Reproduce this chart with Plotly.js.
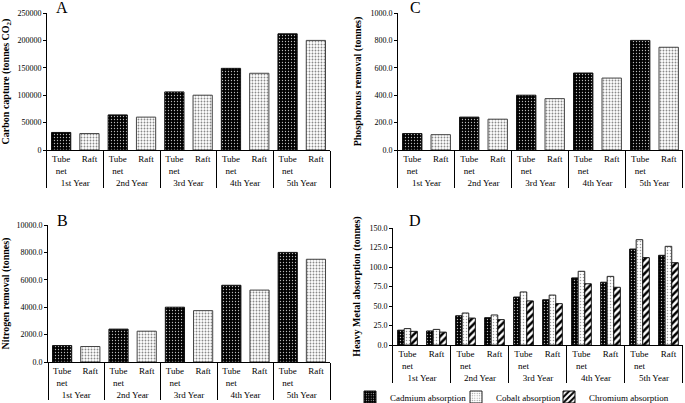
<!DOCTYPE html>
<html>
<head>
<meta charset="utf-8">
<script src="https://cdn.plot.ly/plotly-3.0.1.min.js"></script>
<style>
  html, body { margin: 0; padding: 0; background: #fff; }
  #chart { width: 685px; height: 403px; }
</style>
</head>
<body>
<div id="chart"></div>
<script>
// categories
var years = ['1st Year', '1st Year', '2nd Year', '2nd Year', '3rd Year', '3rd Year', '4th Year', '4th Year', '5th Year', '5th Year'];
var methods = ['Tube<br>net', 'Raft', 'Tube<br>net', 'Raft', 'Tube<br>net', 'Raft', 'Tube<br>net', 'Raft', 'Tube<br>net', 'Raft'];

// panel values
var carbon = [32000, 30000, 64000, 60000, 106000, 100000, 149000, 140000, 212000, 200000];
var nitrogen = [1200, 1130, 2400, 2250, 4000, 3750, 5600, 5250, 8000, 7500];
var phosphorus = [120, 112, 240, 225, 400, 375, 562, 525, 800, 750];
var cadmium = [19, 18, 37.5, 35, 61.5, 58, 86, 80.5, 123, 115];
var cobalt = [21, 20, 41, 38.5, 68, 64, 94.5, 88, 135, 126.5];
var chromium = [17.5, 16.5, 34.5, 32.5, 56.5, 53, 78.5, 74, 112, 105.5];

var serif = 'Liberation Serif, Times New Roman, serif';

var darkDots = {shape: '.', bgcolor: '#000', fgcolor: '#bbb', size: 3, solidity: 0.15};
var lightDots = {shape: '.', bgcolor: '#fff', fgcolor: '#888', size: 3, solidity: 0.3};

function pick(arr, m) {
	return arr.filter(function(v, i) { return (methods[i] == 'Raft') == (m == 'Raft'); });
}

// tube net and raft as two traces sharing one slot per category
function twoBars(vals, xa, ya) {
	return ['Tube', 'Raft'].map(function(m) {
		return {
			type: 'bar',
			x: [pick(years, m), pick(methods, m)],
			y: pick(vals, m),
			xaxis: xa, yaxis: ya,
			offsetgroup: 'one',
			showlegend: false,
			marker: {
				color: m == 'Raft' ? '#fff' : '#000',
				line: {color: m == 'Raft' ? '#444' : '#111', width: 1},
				pattern: m == 'Raft' ? lightDots : darkDots,
			},
		};
	});
}

var traces = [].concat(
	twoBars(carbon, 'x', 'y'),
	twoBars(phosphorus, 'x2', 'y2'),
	twoBars(nitrogen, 'x3', 'y3'),
	[
		{
			type: 'bar', name: 'Cadmium absorption', legend: 'legend',
			x: [years, methods], y: cadmium, xaxis: 'x4', yaxis: 'y4',
			marker: {color: '#000', line: {color: '#111', width: 1}, pattern: darkDots},
		},
		{
			type: 'bar', name: 'Cobalt absorption', legend: 'legend2',
			x: [years, methods], y: cobalt, xaxis: 'x4', yaxis: 'y4',
			marker: {color: '#fff', line: {color: '#222', width: 1},
				pattern: {shape: '.', bgcolor: '#fff', fgcolor: '#999', size: 3, solidity: 0.2}},
		},
		{
			type: 'bar', name: 'Chromium absorption', legend: 'legend3',
			x: [years, methods], y: chromium, xaxis: 'x4', yaxis: 'y4',
			marker: {color: '#fff', line: {color: '#111', width: 1},
				pattern: {shape: '/', bgcolor: '#fff', fgcolor: '#000', size: 5, solidity: 0.5}},
		},
	]
);

// paper fraction from a pixel row of the 403px figure
function fy(py) { return (403 - py) / 403; }

function xax(dom, anchor) {
	return {
		domain: dom, anchor: anchor, type: 'multicategory',
		showline: true, linecolor: '#000', linewidth: 1,
		ticks: '', showgrid: false, tickangle: 0,
		showdividers: true, dividercolor: '#000', dividerwidth: 1,
		tickfont: {family: serif, size: 9, color: '#000'},
	};
}

function yax(dom, anchor, title, rng, dt, fmt) {
	return {
		domain: dom, anchor: anchor, range: rng, dtick: dt, tickformat: fmt,
		showline: true, linecolor: '#000', linewidth: 1,
		ticks: 'outside', ticklen: 3, tickcolor: '#000',
		showgrid: false, zeroline: false,
		tickfont: {family: serif, size: 8, color: '#000'},
		title: {text: '<b>' + title + '</b>', font: {family: serif, size: 10, color: '#000'}, standoff: 6},
	};
}

function letter(t, x, y) {
	return {text: t, x: x, y: y, xref: 'paper', yref: 'paper', showarrow: false,
		font: {family: serif, size: 16, color: '#000'}, xanchor: 'center', yanchor: 'middle'};
}

// one small legend per series so each entry can sit where the reference has it
function leg(xpx) {
	return {
		orientation: 'h', x: xpx / 685, xanchor: 'left', y: fy(397), yanchor: 'middle',
		font: {family: serif, size: 9, color: '#000'},
		itemwidth: 30, bgcolor: 'rgba(0,0,0,0)',
	};
}

var layout = {
	width: 685, height: 403,
	margin: {l: 0, r: 0, t: 0, b: 0, autoexpand: false},
	paper_bgcolor: '#fff', plot_bgcolor: '#fff',
	barmode: 'group', bargap: 0.32, bargroupgap: 0.0,
	xaxis: xax([0.0686, 0.4818], 'y'),
	yaxis: yax([fy(150), fy(13)], 'x', 'Carbon capture (tonnes CO<sub>2</sub>)', [0, 250000], 50000, 'd'),
	xaxis2: xax([0.581, 0.997], 'y2'),
	yaxis2: yax([fy(150), fy(13)], 'x2', 'Phosphorous removal (tonnes)', [0, 1000], 200, '.1f'),
	xaxis3: xax([0.0701, 0.4818], 'y3'),
	yaxis3: yax([fy(362), fy(225)], 'x3', 'Nitrogen removal (tonnes)', [0, 10000], 2000, '.1f'),
	xaxis4: xax([0.5737, 0.997], 'y4'),
	yaxis4: yax([fy(345), fy(228)], 'x4', 'Heavy Metal absorption (tonnes)', [0, 150], 25, '.1f'),
	legend: leg(350),
	legend2: leg(456),
	legend3: leg(549),
	annotations: [
		letter('A', 0.091, fy(8)),
		letter('C', 0.606, fy(8)),
		letter('B', 0.091, fy(220)),
		letter('D', 0.606, fy(220)),
	],
};

Plotly.newPlot('chart', traces, layout, {displayModeBar: false});
</script>
</body>
</html>
